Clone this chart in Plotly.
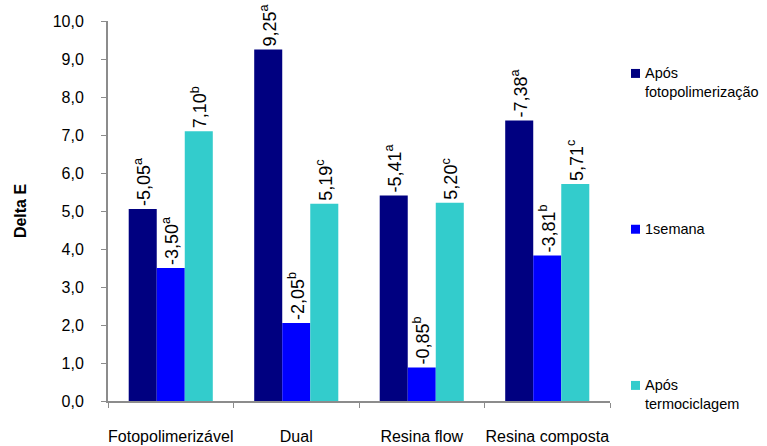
import plotly.graph_objects as go

categories = ["Fotopolimerizável", "Dual", "Resina flow", "Resina composta"]
series_names = ["Após<br>fotopolimerização", "1semana", "Após<br>termociclagem"]
apos_foto = [5.05, 9.25, 5.41, 7.38]
semana1 = [3.50, 2.05, 0.88, 3.83]
apos_termo = [7.10, 5.19, 5.22, 5.71]
labels_foto = ["-5,05<sup>a</sup>", "9,25<sup>a</sup>", "-5,41<sup>a</sup>", "-7,38<sup>a</sup>"]
labels_semana = ["-3,50<sup>a</sup>", "-2,05<sup>b</sup>", "-0,85<sup>b</sup>", "-3,81<sup>b</sup>"]
labels_termo = ["7,10<sup>b</sup>", "5,19<sup>c</sup>", "5,20<sup>c</sup>", "5,71<sup>c</sup>"]
colors = ["#000080", "#0000FF", "#33CCCC"]
y_ticks = [0, 1, 2, 3, 4, 5, 6, 7, 8, 9, 10]

FONT = "Liberation Sans, Arial, sans-serif"

fig = go.Figure()
for vals, labs, col in zip([apos_foto, semana1, apos_termo],
                           [labels_foto, labels_semana, labels_termo], colors):
    fig.add_trace(go.Bar(
        x=categories, y=vals, text=labs, textposition="outside",
        textangle=-90, cliponaxis=False, constraintext="none",
        textfont=dict(family=FONT, size=18, color="#000000"),
        marker=dict(color=col, line=dict(width=0)),
        showlegend=False, hoverinfo="skip",
    ))

fig.update_layout(
    width=767, height=446,
    margin=dict(l=108, r=157, t=21, b=45),
    paper_bgcolor="white", plot_bgcolor="white",
    barmode="group", bargap=0.33, bargroupgap=0,
    separators=",.",
    font=dict(family=FONT, size=16, color="#000000"),
    xaxis=dict(
        showline=True, linecolor="#8C8C8C", linewidth=2,
        ticks="outside", tickson="boundaries", ticklen=5, tickcolor="#8C8C8C",
        tickwidth=1, tickfont=dict(size=16), ticklabelstandoff=20,
        tickangle=0, automargin=False,
        showgrid=False, zeroline=False,
    ),
    yaxis=dict(
        range=[0, 10], tickvals=y_ticks, tickformat=".1f",
        showline=True, linecolor="#8C8C8C", linewidth=2,
        ticks="outside", ticklen=5, tickcolor="#8C8C8C", tickwidth=1,
        tickfont=dict(size=16), ticklabelstandoff=14, automargin=False,
        showgrid=False, zeroline=False,
        title=dict(text="<b>Delta E</b>", font=dict(size=16), standoff=22),
    ),
)

# manual legend (spread along right side like the original)
legend_pos = [0.862, 0.452, 0.041]
for name, col, yc in zip(series_names, colors, legend_pos):
    fig.add_shape(type="rect", xref="paper", yref="paper",
                  x0=1.0418, x1=1.0598, y0=yc - 0.0118, y1=yc + 0.0118,
                  fillcolor=col, line=dict(width=0))
    fig.add_annotation(xref="paper", yref="paper", x=1.066, y=yc + 0.027,
                       xanchor="left", yanchor="top", align="left",
                       text=name, showarrow=False,
                       font=dict(family=FONT, size=14.5, color="#000000"))

fig.write_html("out.html")
